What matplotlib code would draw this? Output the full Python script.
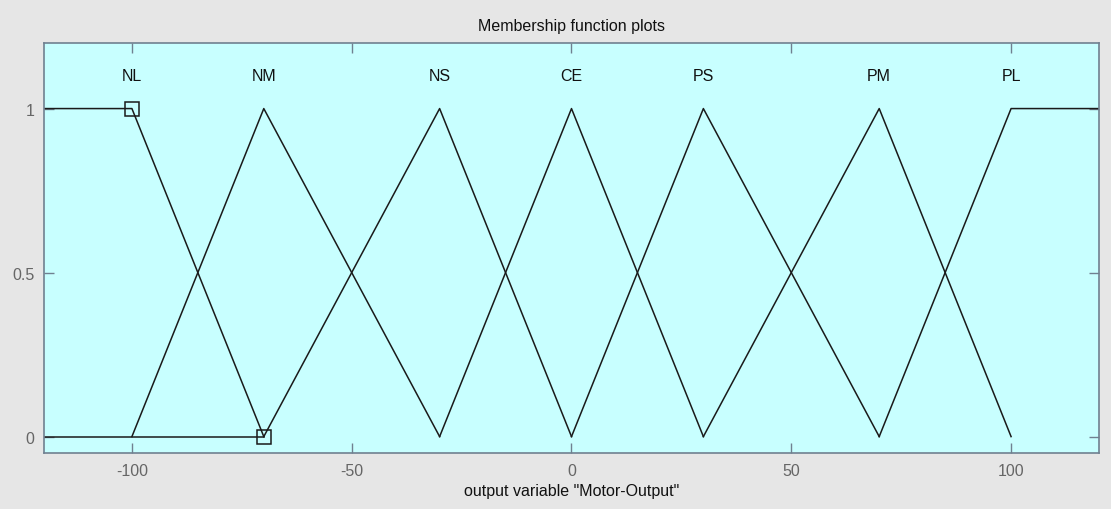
import matplotlib.pyplot as plt

plt.rcParams['font.family'] = ['Liberation Sans', 'DejaVu Sans']

# membership function names and their breakpoints (x, mu)
mf_names = ["NL", "NM", "NS", "CE", "PS", "PM", "PL"]
mf_x = [
    [-120, -100, -70],
    [-100, -70, -30],
    [-70, -30, 0],
    [-30, 0, 30],
    [0, 30, 70],
    [30, 70, 100],
    [70, 100, 120],
]
mf_y = [
    [1, 1, 0],
    [0, 1, 0],
    [0, 1, 0],
    [0, 1, 0],
    [0, 1, 0],
    [0, 1, 0],
    [0, 1, 1],
]
label_x = [-100, -70, -30, 0, 30, 70, 100]

# selected MF (NL): zero part and its handle points
sel_zero_x = [-120, -70]
sel_zero_y = [0, 0]
handle_x = [-100, -70]
handle_y = [1, 0]

fig = plt.figure(figsize=(11.11, 5.10), dpi=100, facecolor="#e6e6e6")
ax = fig.add_axes([0.0396, 0.1098, 0.9496, 0.804])
ax.set_facecolor("#c8ffff")

for xs, ys in zip(mf_x, mf_y):
    ax.plot(xs, ys, color="#1a1a1a", lw=1.1)
ax.plot(sel_zero_x, sel_zero_y, color="#1a1a1a", lw=1.1)
ax.plot(handle_x, handle_y, ls="none", marker="s", ms=10, mfc="none",
        mec="#1a1a1a", mew=1.1)

for name, lx in zip(mf_names, label_x):
    ax.text(lx, 1.1, name, ha="center", va="center", fontsize=11.5, color="#111111")

ax.set_xlim(-120, 120)
ax.set_ylim(-0.05, 1.2)
ax.set_xticks([-100, -50, 0, 50, 100])
ax.set_xticklabels(["-100", "-50", "0", "50", "100"])
ax.set_yticks([0, 0.5, 1])
ax.set_yticklabels(["0", "0.5", "1"])
ax.tick_params(direction="in", top=True, right=True, length=7, width=1,
               color="#708090", labelcolor="#666666", labelsize=11.5, pad=7)
for sp in ax.spines.values():
    sp.set_color("#708090")
    sp.set_linewidth(1.2)

ax.set_title("Membership function plots", fontsize=11.5, color="#111111", pad=9)
ax.set_xlabel('output variable "Motor-Output"', fontsize=11.5, color="#111111",
              labelpad=4)

fig.savefig("out.png", dpi=100, facecolor=fig.get_facecolor())
